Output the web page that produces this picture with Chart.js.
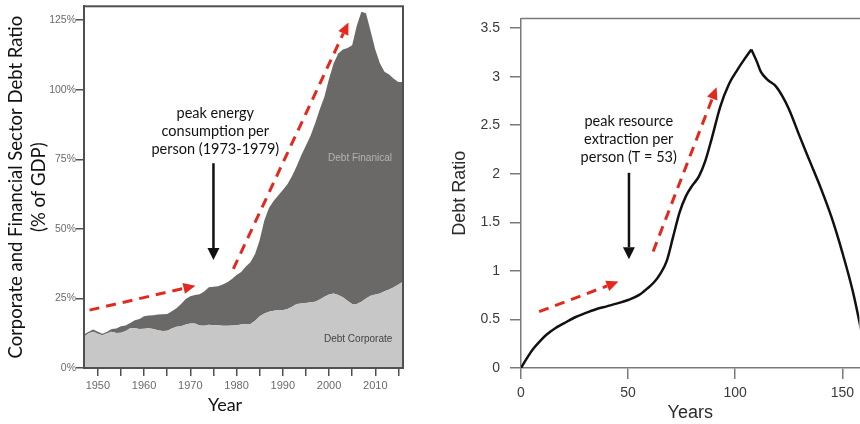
<!DOCTYPE html>
<html>
<head>
<meta charset="utf-8">
<title>Debt ratio: history vs model</title>
<script src="https://cdn.jsdelivr.net/npm/chart.js@4.4.1/dist/chart.umd.min.js"></script>
<style>
    html, body { margin: 0; padding: 0; background: #fff; overflow: hidden; }
    #wrap { position: relative; width: 860px; height: 424px; }
    .panel { position: absolute; top: 0; height: 424px; }
    #leftPanel { left: 0; width: 420px; }
    #rightPanel { left: 430px; width: 430px; }
</style>
</head>
<body>
<div id="wrap">
    <div class="panel" id="leftPanel"><canvas id="debtHistory"></canvas></div>
    <div class="panel" id="rightPanel"><canvas id="debtModel"></canvas></div>
</div>
<script>
// Left panel: corporate + financial sector debt, % of GDP
const years = [
    1947, 1948, 1949, 1950, 1951, 1952, 1953, 1954, 1955, 1956,
    1957, 1958, 1959, 1960, 1961, 1962, 1963, 1964, 1965, 1966,
    1967, 1968, 1969, 1970, 1971, 1972, 1973, 1974, 1975, 1976,
    1977, 1978, 1979, 1980, 1981, 1982, 1983, 1984, 1985, 1986,
    1987, 1988, 1989, 1990, 1991, 1992, 1993, 1994, 1995, 1996,
    1997, 1998, 1999, 2000, 2001, 2002, 2003, 2004, 2005, 2006,
    2007, 2008, 2009, 2010, 2011, 2012, 2013, 2014, 2015, 2016
];
const corporateDebt = [
    11.2, 12.5, 13.0, 12.3, 11.8, 12.5, 13.0, 12.6, 12.7, 13.3,
    14.3, 14.3, 14.0, 14.1, 14.3, 14.0, 13.6, 13.3, 13.4, 14.2,
    14.8, 15.0, 15.6, 16.0, 16.0, 15.3, 15.2, 15.5, 15.4, 15.4,
    15.2, 15.2, 15.3, 15.4, 15.6, 15.8, 15.8, 17.0, 18.6, 19.6,
    20.2, 20.6, 20.8, 20.8, 21.2, 22.0, 23.0, 23.2, 23.4, 23.6,
    23.8, 24.6, 25.6, 26.4, 26.8, 26.2, 25.4, 24.2, 23.0, 23.0,
    23.8, 25.0, 26.0, 26.4, 26.8, 27.6, 28.2, 29.0, 30.0, 31.0
];
// top of the dark band = corporate + financial
const totalDebt = [
    12.0, 13.0, 13.8, 13.0, 12.3, 13.0, 14.0, 14.2, 15.0, 15.3,
    16.2, 17.2, 17.6, 18.6, 18.9, 19.0, 19.2, 19.3, 19.4, 20.4,
    21.5, 23.0, 24.8, 25.8, 26.2, 26.5, 27.5, 29.0, 29.2, 29.4,
    30.0, 30.8, 32.0, 33.4, 34.5, 36.5, 38.0, 41.0, 46.0, 53.0,
    57.5, 60.0, 62.0, 64.0, 66.0, 69.0, 72.5, 76.5, 80.0, 83.5,
    88.0, 93.0, 97.5, 104.0, 109.5, 113.0, 114.5, 115.0, 116.0, 123.0,
    128.0, 127.5, 121.0, 114.5, 109.5, 106.5, 105.5, 104.0, 102.8, 102.8
];
const yearTicks = [1950, 1955, 1960, 1965, 1970, 1975, 1980, 1985, 1990, 1995, 2000, 2005, 2010, 2015];
const pctTicks = [0, 25, 50, 75, 100, 125];

// Right panel: model debt ratio over time
const modelYears = [
    0, 3, 6, 9, 12, 16, 20, 25, 30, 35, 40, 45, 50, 55, 59, 62, 65, 68, 71, 74, 77,
    80, 83, 86, 89, 93, 97, 101, 104, 107.5, 110, 112, 115, 119, 122, 125, 130,
    135, 140, 145, 150, 155, 160
];
const modelDebt = [
    0, 0.11, 0.205, 0.28, 0.345, 0.41, 0.46, 0.52, 0.565, 0.605, 0.635, 0.665, 0.70,
    0.75, 0.82, 0.88, 0.97, 1.10, 1.35, 1.60, 1.77, 1.88, 1.97, 2.13, 2.36, 2.69, 2.92,
    3.07, 3.17, 3.28, 3.16, 3.05, 2.97, 2.90, 2.80, 2.67, 2.39, 2.12, 1.85, 1.55,
    1.19, 0.78, 0.26
];
const modelYearTicks = [0, 50, 100, 150];
const ratioTicks = [0, 0.5, 1, 1.5, 2, 2.5, 3, 3.5];

const RED = '#e3291d';
const TEXT_FONT = 'Lato, "Open Sans", sans-serif';
const TICK_FONT = '"Liberation Sans", Arial, sans-serif';

// arrow from (x1,y1) to tip (x2,y2), pixel coords
function drawArrow(ctx, x1, y1, x2, y2, o) {
    const ang = Math.atan2(y2 - y1, x2 - x1);
    const bx = x2 - o.head * Math.cos(ang);
    const by = y2 - o.head * Math.sin(ang);
    const hw = o.headWidth / 2;
    ctx.save();
    ctx.strokeStyle = o.color;
    ctx.fillStyle = o.color;
    ctx.lineWidth = o.width;
    ctx.setLineDash(o.dash || []);
    ctx.beginPath();
    ctx.moveTo(x1, y1);
    ctx.lineTo(bx, by);
    ctx.stroke();
    ctx.setLineDash([]);
    ctx.beginPath();
    ctx.moveTo(x2, y2);
    ctx.lineTo(bx + hw * Math.sin(ang), by - hw * Math.cos(ang));
    ctx.lineTo(bx - hw * Math.sin(ang), by + hw * Math.cos(ang));
    ctx.closePath();
    ctx.fill();
    ctx.restore();
}

function drawLines(ctx, lines, x, y, step) {
    lines.forEach((t, i) => ctx.fillText(t, x, y + i * step));
}

// annotations in data units, turned into pixels by the chart's scales
function notesPlugin(notes) {
    return {
        id: 'notes',
        afterDraw(chart) {
            const { ctx, scales: { x, y } } = chart;
            const px = v => x.getPixelForValue(v);
            const py = v => y.getPixelForValue(v);
            if (notes.frame) notes.frame(chart);
            ctx.save();
            ctx.fillStyle = '#111';
            ctx.font = notes.textFont;
            ctx.textAlign = 'center';
            ctx.textBaseline = 'middle';
            drawLines(ctx, notes.text, px(notes.textAt[0]), py(notes.textAt[1]), 18);
            ctx.restore();
            const black = { color: '#111', width: 2.5, head: 12, headWidth: 12 };
            const red = { color: RED, width: 3, head: 12, headWidth: 11, dash: [10, 7] };
            const b = notes.down;
            drawArrow(ctx, px(b[0]), py(b[1]), px(b[0]), py(b[2]), black);
            notes.trend.forEach(a => drawArrow(ctx, px(a[0]), py(a[1]), px(a[2]), py(a[3]), red));
            if (notes.extra) notes.extra(chart, px, py);
        }
    };
}

document.addEventListener('DOMContentLoaded', () => {
    const leftNotes = {
        text: ['peak energy', 'consumption per', 'person (1973-1979)'],
        textAt: [1975.4, 91.6],
        textFont: '14.5px ' + TEXT_FONT,
        down: [1975, 73.6, 38.8],
        trend: [[1948.2, 20.8, 1971.1, 29.6], [1979.3, 35.6, 2004.2, 124.2]],
        frame(chart) {
            const { ctx, chartArea: a } = chart;
            ctx.save();
            ctx.strokeStyle = '#505050';
            ctx.lineWidth = 2;
            ctx.strokeRect(a.left, a.top, a.right - a.left, a.bottom - a.top);
            ctx.restore();
        },
        extra(chart, px, py) {
            const ctx = chart.ctx;
            ctx.save();
            ctx.textAlign = 'center';
            ctx.textBaseline = 'middle';
            ctx.font = '10px ' + TICK_FONT;
            ctx.fillStyle = '#b4b4b4';
            ctx.fillText('Debt Finanical', px(2006.7), py(75.5));
            ctx.fillStyle = '#444';
            ctx.fillText('Debt Corporate', px(2006.3), py(10.3));
            ctx.fillStyle = '#111';
            ctx.font = '18px ' + TEXT_FONT;
            ctx.fillText('Year', px(1977.5), chart.chartArea.bottom + 37);
            ctx.restore();
        }
    };

    new Chart(document.getElementById('debtHistory'), {
        type: 'line',
        data: {
            datasets: [{
                label: 'Debt: Corporate',
                data: years.map((yr, i) => ({ x: yr, y: corporateDebt[i] })),
                fill: 'origin',
                backgroundColor: '#c7c7c7',
                borderWidth: 0,
                pointRadius: 0,
                tension: 0
            }, {
                label: 'Debt: Financial',
                data: years.map((yr, i) => ({ x: yr, y: totalDebt[i] })),
                fill: '-1',
                backgroundColor: '#6b6868',
                borderWidth: 0,
                pointRadius: 0,
                tension: 0
            }]
        },
        options: {
            responsive: true,
            maintainAspectRatio: false,
            animation: false,
            layout: { autoPadding: false, padding: { left: 0, top: 6, right: 17, bottom: 0 } },
            plugins: { legend: { display: false }, tooltip: { enabled: false } },
            scales: {
                x: {
                    type: 'linear',
                    min: 1947,
                    max: 2016,
                    afterBuildTicks: s => { s.ticks = yearTicks.map(v => ({ value: v })); },
                    afterFit: s => { s.height = 56; },
                    grid: { drawOnChartArea: false, tickLength: 8, color: '#505050', lineWidth: 1.5 },
                    border: { color: '#505050', width: 2 },
                    ticks: {
                        autoSkip: false,
                        maxRotation: 0,
                        padding: 3,
                        color: '#6a6a6a',
                        font: { family: TICK_FONT, size: 11 },
                        callback: v => (v % 10 === 0 ? String(v) : '')
                    }
                },
                y: {
                    min: 0,
                    max: 130,
                    afterBuildTicks: s => { s.ticks = pctTicks.map(v => ({ value: v })); },
                    afterFit: s => { s.width = 84; },
                    grid: { drawOnChartArea: false, tickLength: 8, color: '#505050', lineWidth: 1.5 },
                    border: { color: '#505050', width: 2 },
                    ticks: {
                        padding: 0,
                        color: '#6a6a6a',
                        font: { family: TICK_FONT, size: 10.5 },
                        callback: v => v + '%'
                    },
                    title: {
                        display: true,
                        text: ['Corporate and Financial Sector Debt Ratio', '(% of GDP)'],
                        color: '#111',
                        font: { family: TEXT_FONT, size: 18.5, lineHeight: '23px' },
                        padding: { top: 5, bottom: 0 }
                    }
                }
            }
        },
        plugins: [notesPlugin(leftNotes)]
    });

    const rightNotes = {
        text: ['peak resource', 'extraction per', 'person (T = 53)'],
        textAt: [50.3, 2.54],
        textFont: '14.5px ' + TEXT_FONT,
        down: [50.4, 2.01, 1.12],
        trend: [[8.5, 0.58, 45.5, 0.89], [61.7, 1.20, 91.3, 2.89]],
        frame(chart) {
            const { ctx, chartArea: a } = chart;
            ctx.save();
            ctx.strokeStyle = '#7a7a7a';
            ctx.lineWidth = 1.5;
            ctx.beginPath();
            ctx.moveTo(a.left, a.top);
            ctx.lineTo(chart.width, a.top);
            ctx.stroke();
            ctx.restore();
        }
    };

    // split the curve at its maximum so the peak stays pointed
    const peak = modelDebt.indexOf(Math.max(...modelDebt));
    const modelPoints = modelYears.map((t, i) => ({ x: t, y: modelDebt[i] }));
    const curveStyle = {
        borderColor: '#111',
        borderWidth: 2.5,
        pointRadius: 0,
        fill: false,
        cubicInterpolationMode: 'monotone'
    };

    new Chart(document.getElementById('debtModel'), {
        type: 'line',
        data: {
            datasets: [
                { label: 'Debt Ratio', data: modelPoints.slice(0, peak + 1), ...curveStyle },
                { label: 'Debt Ratio (after peak)', data: modelPoints.slice(peak), ...curveStyle }
            ]
        },
        options: {
            responsive: true,
            maintainAspectRatio: false,
            animation: false,
            layout: { autoPadding: false, padding: { left: 0, top: 5, right: 0, bottom: 0 } },
            plugins: { legend: { display: false }, tooltip: { enabled: false } },
            scales: {
                x: {
                    type: 'linear',
                    min: 0,
                    max: 158,
                    afterBuildTicks: s => { s.ticks = modelYearTicks.map(v => ({ value: v })); },
                    afterFit: s => { s.height = 56; },
                    grid: { drawOnChartArea: false, tickLength: 11, color: '#7a7a7a', lineWidth: 1.5 },
                    border: { color: '#7a7a7a', width: 1.5 },
                    ticks: {
                        autoSkip: false,
                        maxRotation: 0,
                        padding: 6,
                        color: '#3a3a3a',
                        font: { family: TICK_FONT, size: 14 },
                        callback: v => String(v)
                    },
                    title: {
                        display: true,
                        text: 'Years',
                        color: '#2b2b2b',
                        font: { family: TICK_FONT, size: 18, lineHeight: 1.2 },
                        padding: { top: 0, bottom: 0 }
                    }
                },
                y: {
                    min: 0,
                    max: 3.6,
                    afterBuildTicks: s => { s.ticks = ratioTicks.map(v => ({ value: v })); },
                    afterFit: s => { s.width = 91; },
                    grid: { drawOnChartArea: false, tickLength: 11, color: '#7a7a7a', lineWidth: 1.5 },
                    border: { color: '#7a7a7a', width: 1.5 },
                    ticks: {
                        padding: 10,
                        color: '#3a3a3a',
                        font: { family: TICK_FONT, size: 14 },
                        callback: v => String(v)
                    },
                    title: {
                        display: true,
                        text: 'Debt Ratio',
                        color: '#2b2b2b',
                        font: { family: TICK_FONT, size: 18, lineHeight: 1.2 },
                        padding: { top: 19, bottom: 0 }
                    }
                }
            }
        },
        plugins: [notesPlugin(rightNotes)]
    });
});
</script>
</body>
</html>
